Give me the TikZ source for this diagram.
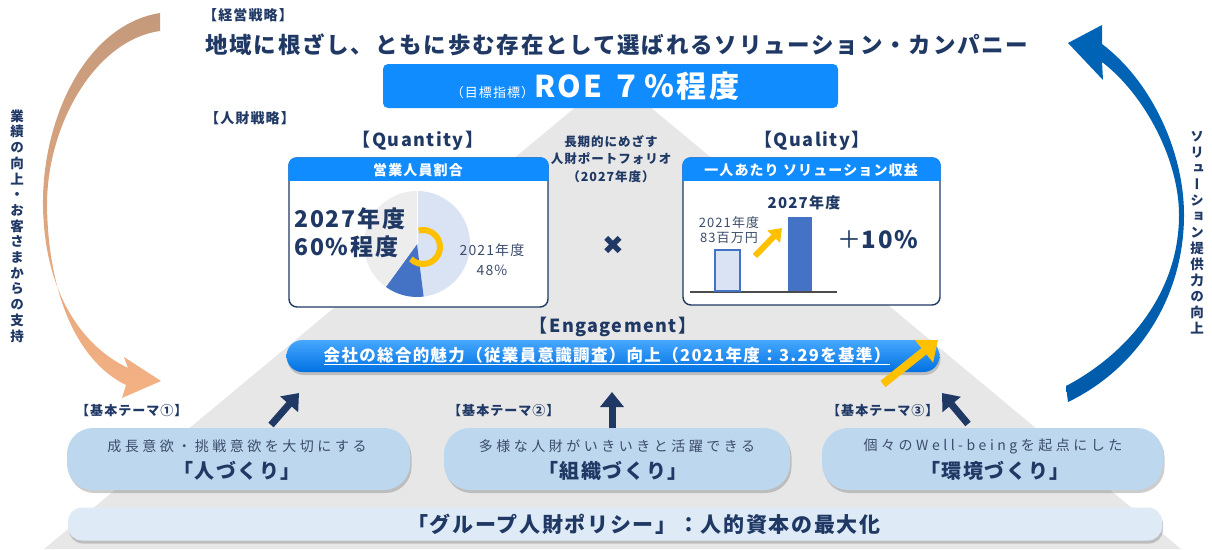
\documentclass[tikz,border=0pt]{standalone}
\usepackage{fontspec}
\setmainfont{Noto Sans CJK JP}[LetterSpace=8]
\newfontfamily\jpwide{Noto Sans CJK JP}[LetterSpace=25]
\newfontfamily\jpvert{Noto Sans CJK JP}[RawFeature=+vert]
\newfontfamily\symfont{DejaVu Sans}
\usetikzlibrary{positioning,calc,arrows.meta,shadows}
\definecolor{cNavy}{RGB}{31,56,100}
\definecolor{cSub}{RGB}{60,76,108}
\definecolor{cBlue}{RGB}{17,140,255}
\definecolor{cEngT}{RGB}{70,168,255}
\definecolor{cEngB}{RGB}{0,112,225}
\definecolor{cPyr}{RGB}{231,231,231}
\definecolor{cPill}{RGB}{189,215,238}
\definecolor{cBase}{RGB}{222,235,247}
\definecolor{cBarD}{RGB}{68,114,196}
\definecolor{cBarL}{RGB}{218,227,243}
\definecolor{cGold}{RGB}{255,192,0}
\definecolor{cPieG}{RGB}{237,237,237}
\definecolor{cTanT}{RGB}{196,154,124}
\definecolor{cTanM}{RGB}{250,232,220}
\definecolor{cTanB}{RGB}{244,177,131}
\definecolor{cSolT}{RGB}{0,100,182}
\definecolor{cSolM}{RGB}{80,150,215}
\definecolor{cSolB}{RGB}{0,92,170}

\begin{document}
\begin{tikzpicture}[x=1pt, y=-1pt,
  lbl/.style   = {font=\fontsize{14}{16}\selectfont\bfseries, text=cNavy,
                  anchor=west, inner sep=0pt},
  head/.style  = {font=\fontsize{18}{20}\selectfont\bfseries, text=cNavy},
  panel/.style = {draw=cNavy, line width=1.4pt, fill=white, rounded corners=8pt,
                  minimum width=259pt, minimum height=149pt},
  band/.style  = {font=\fontsize{14}{16}\selectfont\bfseries, text=white},
  pill/.style  = {fill=cPill, rounded corners=26pt, minimum height=62pt,
                  drop shadow={shadow xshift=1.5pt, shadow yshift=-3pt, opacity=.4}},
  sub/.style   = {font=\jpwide\fontsize{14}{16}\selectfont, text=cSub},
  big/.style   = {font=\fontsize{20}{22}\selectfont\bfseries, text=cNavy},
  vtxt/.style  = {font=\jpvert\fontsize{13.5}{15.7}\selectfont\bfseries, text=cNavy,
                  align=center, inner sep=0pt},
  blk/.style   = {cNavy, line width=7pt, -{Triangle[length=15pt, width=23pt]}},
  gold/.style  = {cGold, line width=6pt, -{Triangle[length=12pt, width=17pt]}}
]
\useasboundingbox (0,0) rectangle (1212,549);

% ------------------------------------------------------------ pyramid --
\fill[cPyr] (613,76) -- (1181,549) -- (44,549) -- cycle;

% --------------------------------------------------------- side arrows --
\shade[top color=cTanT, middle color=cTanM, bottom color=cTanB]
  (160,13) .. controls (85,25) and (42,120) .. (43,205)
  .. controls (44,290) and (80,345) .. (128,368)
  -- (124,357) -- (161,381) -- (122,398) -- (126,385)
  .. controls (75,360) and (48,290) .. (47,205)
  .. controls (47,125) and (95,40) .. (160,31) -- cycle;
\shade[top color=cSolT, middle color=cSolM, bottom color=cSolB]
  (1102,44) .. controls (1150,80) and (1184,150) .. (1184,215)
  .. controls (1184,300) and (1135,370) .. (1068,402)
  -- (1066,386)
  .. controls (1125,355) and (1179,295) .. (1179,215)
  .. controls (1179,160) and (1145,95) .. (1102,62)
  -- (1103,80) -- (1068,43) -- (1102,25) -- cycle;
\node[vtxt] (lside) at (17,226) {業\\績\\の\\向\\上\\・\\お\\客\\さ\\ま\\か\\ら\\の\\支\\持};
\node[vtxt, font=\jpvert\fontsize{13.5}{16}\selectfont\bfseries]
      (rside) at (1197,233) {ソ\\リ\\ュ\\ー\\シ\\ョ\\ン\\提\\供\\力\\の\\向\\上};

% ------------------------------------------------------------ strategy --
\node[lbl] (mgmt) at (203,15) {【経営戦略】};
\node[lbl, font=\fontsize{22.5}{26}\selectfont\bfseries]
      (vision) at (205,45) {地域に根ざし、ともに歩む存在として選ばれるソリューション・カンパニー};
\node[fill=cBlue, rounded corners=5pt, minimum width=455pt, minimum height=44pt]
      (roe) at (610.5,86) {};
\node[text=white] (roetxt) at (595,86)
      {{\fontsize{13}{15}\selectfont（目標指標）}{\fontsize{30}{34}\selectfont\bfseries ROE ７％程度}};
\node[lbl] (hr) at (205,118) {【人財戦略】};

% ------------------------------------------------------------ quantity --
\node[head] (qtyh) at (418,141) {【Quantity】};
\node[panel] (qty) at (418.5,232.5) {};
\begin{scope}
  \clip[rounded corners=8pt] (qty.north west) rectangle (qty.south east);
  \fill[cBlue] ([shift={(-2pt,2pt)}]qty.north west) rectangle ([yshift=-24pt, xshift=2pt]qty.north east);
\end{scope}
\node[band] (qtyb) at (418,170) {営業人員割合};
\begin{scope}[shift={(417,244)}, y=1pt]
  \fill[cBarL] (0,0) -- (90:53) arc[start angle=90, end angle=-82.8, radius=53] -- cycle;
  \fill[cBarD] (0,0) -- (-82.8:53) arc[start angle=-82.8, end angle=-126, radius=53] -- cycle;
  \fill[cPieG] (0,0) -- (-126:53) arc[start angle=-126, end angle=-270, radius=53] -- cycle;
  \draw[white, line width=1pt] (0,0) -- (90:53);
  \draw[cGold, line width=6pt] ([shift={(6,-3)}]105:17)
       arc[start angle=105, end angle=-135, radius=17];
\end{scope}
\node[font=\fontsize{23}{28}\selectfont\bfseries, text=cNavy, align=left, anchor=west,
      inner sep=0pt] (q27) at (294,233) {2027年度\\60\%程度};
\node[font=\fontsize{14}{20}\selectfont, text=cSub, align=center] (q21) at (492,260)
      {2021年度\\48\%};

% ---------------------------------------------------------- portfolio --
\node[font=\fontsize{12.5}{17.5}\selectfont\bfseries, text=cNavy, align=center]
      (port) at (611,159) {長期的にめざす\\人財ポートフォリオ\\（2027年度）};
\node[font=\symfont\fontsize{26}{28}\selectfont, text=cNavy] (times) at (613,245) {✖};

% ------------------------------------------------------------- quality --
\node[head] (qlth) at (812,141) {【Quality】};
\node[panel, minimum width=257pt, minimum height=147pt] (qlt) at (811.5,231.5) {};
\begin{scope}
  \clip[rounded corners=8pt] (qlt.north west) rectangle (qlt.south east);
  \fill[cBlue] ([shift={(-2pt,2pt)}]qlt.north west) rectangle ([yshift=-24pt, xshift=2pt]qlt.north east);
\end{scope}
\node[band] (qltb) at (811,170) {一人あたり ソリューション収益};
\draw[line width=2pt, black!70] (690,292) -- (837,292);
\filldraw[fill=cBarL, draw=cBarD, line width=1.2pt] (715,250) rectangle (740,291);
\fill[cBarD] (788,217) rectangle (812,291);
\draw[gold] (755,256) -- (782,228);
\node[font=\fontsize{15}{17}\selectfont\bfseries, text=cNavy] (b27) at (804,203) {2027年度};
\node[font=\fontsize{13}{15.5}\selectfont, text=cSub, align=center] (b21) at (729,230)
      {2021年度\\83百万円};
\node[font=\fontsize{24}{26}\selectfont\bfseries, text=cNavy] (plus) at (878,240)
      {{\mdseries ＋}10\%};

% ---------------------------------------------------------- engagement --
\node[head] (engh) at (613,327) {【Engagement】};
\node[top color=cEngT, bottom color=cEngB, rounded corners=16pt,
      minimum width=653pt, minimum height=32pt,
      drop shadow={shadow xshift=1pt, shadow yshift=-3pt, opacity=.4}] (eng) at (613,356) {};
\node[font=\fontsize{16.5}{18}\selectfont\bfseries, text=white] (engt) at (607,356)
      {\underline{会社の総合的魅力（従業員意識調査）向上（2021年度：3.29を基準）}};
\draw[cGold, line width=8pt, -{Triangle[length=18pt, width=28pt]}] (883,384) -- (938,340);

% -------------------------------------------------------------- themes --
\node[lbl, font=\fontsize{13}{15}\selectfont\bfseries] (t1) at (76,411) {【基本テーマ①】};
\node[lbl, font=\fontsize{13}{15}\selectfont\bfseries] (t2) at (448,411) {【基本テーマ②】};
\node[lbl, font=\fontsize{13}{15}\selectfont\bfseries] (t3) at (827,411) {【基本テーマ③】};
\draw[blk] (271,425) -- (299,393);
\draw[blk] (612,428) -- (612,392);
\draw[blk] (968,424) -- (942,393);

\node[pill, minimum width=343pt] (p1) at (238.5,459) {};
\node[pill, minimum width=346pt] (p2) at (617,459) {};
\node[pill, minimum width=341pt] (p3) at (992.5,459) {};
\node[sub] (s1) at (237,446) {成長意欲・挑戦意欲を大切にする};
\node[big] (b1) at (237,471) {「人づくり」};
\node[sub] (s2) at (617,446) {多様な人財がいきいきと活躍できる};
\node[big] (b2) at (613,471) {「組織づくり」};
\node[sub] (s3) at (993,446) {個々のWell-beingを起点にした};
\node[big] (b3) at (995,471) {「環境づくり」};

% -------------------------------------------------------------- policy --
\node[fill=cBase, rounded corners=14pt, minimum width=1094pt, minimum height=33pt,
      drop shadow={shadow xshift=1pt, shadow yshift=-3pt, opacity=.4}] (base) at (615,524) {};
\node[font=\fontsize{21}{23}\selectfont\bfseries, text=cNavy] (pol) at (644,524)
      {「グループ人財ポリシー」：人的資本の最大化};

\end{tikzpicture}
\end{document}
